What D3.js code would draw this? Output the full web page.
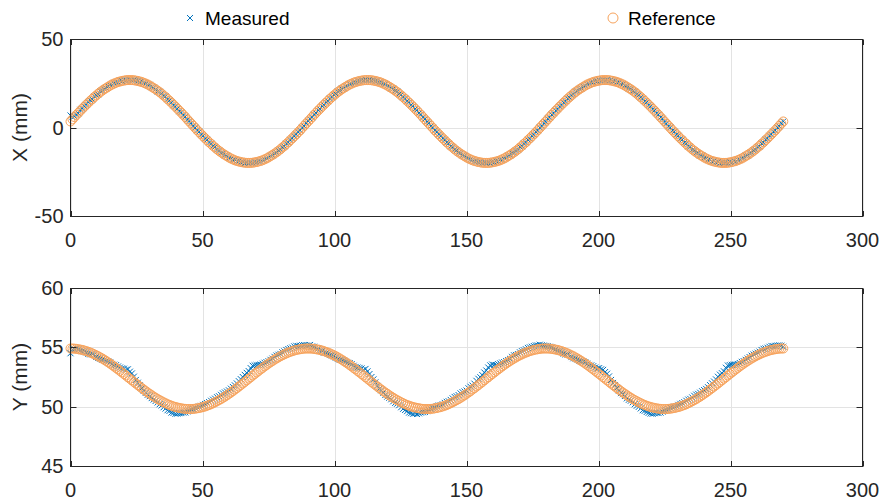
<!DOCTYPE html>
<html><head><meta charset="utf-8">
<script src="https://cdn.jsdelivr.net/npm/d3@7"></script>
<style>body{margin:0;background:#fff}svg{display:block;font-family:"Liberation Sans",Arial,sans-serif}</style>
</head><body><div id="chart"></div>
<script>
const time = [
0,0.75,1.5,2.25,3,3.75,4.5,5.25,6,6.75,7.5,8.25,9,9.75,10.5,11.25,12,12.75,13.5,14.25,
15,15.75,16.5,17.25,18,18.75,19.5,20.25,21,21.75,22.5,23.25,24,24.75,25.5,26.25,27,27.75,28.5,29.25,
30,30.75,31.5,32.25,33,33.75,34.5,35.25,36,36.75,37.5,38.25,39,39.75,40.5,41.25,42,42.75,43.5,44.25,
45,45.75,46.5,47.25,48,48.75,49.5,50.25,51,51.75,52.5,53.25,54,54.75,55.5,56.25,57,57.75,58.5,59.25,
60,60.75,61.5,62.25,63,63.75,64.5,65.25,66,66.75,67.5,68.25,69,69.75,70.5,71.25,72,72.75,73.5,74.25,
75,75.75,76.5,77.25,78,78.75,79.5,80.25,81,81.75,82.5,83.25,84,84.75,85.5,86.25,87,87.75,88.5,89.25,
90,90.75,91.5,92.25,93,93.75,94.5,95.25,96,96.75,97.5,98.25,99,99.75,100.5,101.25,102,102.75,103.5,104.25,
105,105.75,106.5,107.25,108,108.75,109.5,110.25,111,111.75,112.5,113.25,114,114.75,115.5,116.25,117,117.75,118.5,119.25,
120,120.75,121.5,122.25,123,123.75,124.5,125.25,126,126.75,127.5,128.25,129,129.75,130.5,131.25,132,132.75,133.5,134.25,
135,135.75,136.5,137.25,138,138.75,139.5,140.25,141,141.75,142.5,143.25,144,144.75,145.5,146.25,147,147.75,148.5,149.25,
150,150.75,151.5,152.25,153,153.75,154.5,155.25,156,156.75,157.5,158.25,159,159.75,160.5,161.25,162,162.75,163.5,164.25,
165,165.75,166.5,167.25,168,168.75,169.5,170.25,171,171.75,172.5,173.25,174,174.75,175.5,176.25,177,177.75,178.5,179.25,
180,180.75,181.5,182.25,183,183.75,184.5,185.25,186,186.75,187.5,188.25,189,189.75,190.5,191.25,192,192.75,193.5,194.25,
195,195.75,196.5,197.25,198,198.75,199.5,200.25,201,201.75,202.5,203.25,204,204.75,205.5,206.25,207,207.75,208.5,209.25,
210,210.75,211.5,212.25,213,213.75,214.5,215.25,216,216.75,217.5,218.25,219,219.75,220.5,221.25,222,222.75,223.5,224.25,
225,225.75,226.5,227.25,228,228.75,229.5,230.25,231,231.75,232.5,233.25,234,234.75,235.5,236.25,237,237.75,238.5,239.25,
240,240.75,241.5,242.25,243,243.75,244.5,245.25,246,246.75,247.5,248.25,249,249.75,250.5,251.25,252,252.75,253.5,254.25,
255,255.75,256.5,257.25,258,258.75,259.5,260.25,261,261.75,262.5,263.25,264,264.75,265.5,266.25,267,267.75,268.5,269.25,
270];

const refX = [
3.4,4.6,5.9,7.1,8.3,9.5,10.6,11.8,12.9,14.0,15.1,16.1,17.2,18.1,19.1,20.0,20.8,21.6,22.3,23.0,23.7,24.3,24.8,25.3,25.7,26.0,26.3,26.5,26.7,26.8,26.8,
26.8,26.7,26.5,26.3,26.0,25.7,25.3,24.8,24.3,23.7,23.0,22.3,21.6,20.8,20.0,19.1,18.1,17.2,16.1,15.1,14.0,12.9,11.8,10.6,9.5,8.3,7.1,5.9,4.6,
3.4,2.2,1.0,-0.3,-1.5,-2.7,-3.8,-5.0,-6.1,-7.2,-8.3,-9.3,-10.4,-11.3,-12.3,-13.2,-14.0,-14.8,-15.5,-16.2,-16.9,-17.5,-18.0,-18.5,-18.9,-19.2,-19.5,-19.7,-19.9,-20.0,-20.0,
-20.0,-19.9,-19.7,-19.5,-19.2,-18.9,-18.5,-18.0,-17.5,-16.9,-16.2,-15.5,-14.8,-14.0,-13.2,-12.3,-11.3,-10.4,-9.3,-8.3,-7.2,-6.1,-5.0,-3.8,-2.7,-1.5,-0.3,1.0,2.2,
3.4,4.6,5.9,7.1,8.3,9.5,10.6,11.8,12.9,14.0,15.1,16.1,17.2,18.1,19.1,20.0,20.8,21.6,22.3,23.0,23.7,24.3,24.8,25.3,25.7,26.0,26.3,26.5,26.7,26.8,26.8,
26.8,26.7,26.5,26.3,26.0,25.7,25.3,24.8,24.3,23.7,23.0,22.3,21.6,20.8,20.0,19.1,18.1,17.2,16.1,15.1,14.0,12.9,11.8,10.6,9.5,8.3,7.1,5.9,4.6,
3.4,2.2,1.0,-0.3,-1.5,-2.7,-3.8,-5.0,-6.1,-7.2,-8.3,-9.3,-10.4,-11.3,-12.3,-13.2,-14.0,-14.8,-15.5,-16.2,-16.9,-17.5,-18.0,-18.5,-18.9,-19.2,-19.5,-19.7,-19.9,-20.0,-20.0,
-20.0,-19.9,-19.7,-19.5,-19.2,-18.9,-18.5,-18.0,-17.5,-16.9,-16.2,-15.5,-14.8,-14.0,-13.2,-12.3,-11.3,-10.4,-9.3,-8.3,-7.2,-6.1,-5.0,-3.8,-2.7,-1.5,-0.3,1.0,2.2,
3.4,4.6,5.9,7.1,8.3,9.5,10.6,11.8,12.9,14.0,15.1,16.1,17.2,18.1,19.1,20.0,20.8,21.6,22.3,23.0,23.7,24.3,24.8,25.3,25.7,26.0,26.3,26.5,26.7,26.8,26.8,
26.8,26.7,26.5,26.3,26.0,25.7,25.3,24.8,24.3,23.7,23.0,22.3,21.6,20.8,20.0,19.1,18.1,17.2,16.1,15.1,14.0,12.9,11.8,10.6,9.5,8.3,7.1,5.9,4.6,
3.4,2.2,1.0,-0.3,-1.5,-2.7,-3.8,-5.0,-6.1,-7.2,-8.3,-9.3,-10.4,-11.3,-12.3,-13.2,-14.0,-14.8,-15.5,-16.2,-16.9,-17.5,-18.0,-18.5,-18.9,-19.2,-19.5,-19.7,-19.9,-20.0,-20.0,
-20.0,-19.9,-19.7,-19.5,-19.2,-18.9,-18.5,-18.0,-17.5,-16.9,-16.2,-15.5,-14.8,-14.0,-13.2,-12.3,-11.3,-10.4,-9.3,-8.3,-7.2,-6.1,-5.0,-3.8,-2.7,-1.5,-0.3,1.0,2.2,
3.4];

const measX = [
6.8,5.9,6.3,7.2,8.0,10.0,10.6,12.0,12.8,14.4,15.4,15.9,17.6,18.2,18.8,20.5,20.8,21.8,22.2,23.4,24.0,24.1,25.2,25.4,25.4,26.5,26.3,26.7,26.6,27.2,27.1,
26.5,26.9,26.6,26.4,25.7,26.2,25.3,25.0,24.2,24.1,22.8,22.5,21.5,20.4,20.2,19.2,17.8,17.6,16.0,15.3,14.2,12.6,12.0,10.7,9.2,8.7,7.0,6.1,4.3,
3.6,2.5,0.8,-0.1,-1.6,-2.4,-4.0,-4.8,-6.3,-7.0,-8.5,-9.1,-10.5,-11.0,-12.5,-13.0,-14.3,-14.6,-15.7,-16.0,-17.2,-17.4,-18.3,-18.3,-19.1,-19.0,-19.8,-19.5,-20.2,-19.8,-20.3,
-19.8,-20.1,-19.5,-19.7,-19.0,-19.1,-18.3,-18.2,-17.3,-17.0,-16.0,-15.7,-14.6,-14.2,-13.0,-12.5,-11.1,-10.6,-9.1,-8.5,-7.0,-6.3,-4.8,-4.0,-2.5,-1.7,-0.1,0.8,2.4,
3.7,4.8,5.7,7.4,8.2,9.8,10.5,12.1,12.8,14.3,14.9,16.4,17.1,18.4,19.0,20.3,20.7,21.9,22.2,23.3,23.6,24.6,24.7,25.6,25.6,26.3,26.2,26.8,26.6,27.1,26.7,
27.1,26.6,26.8,26.2,26.3,25.6,25.6,24.7,24.6,23.6,23.3,22.2,21.9,20.7,20.3,19.0,18.4,17.1,16.4,14.9,14.3,12.8,12.1,10.5,9.8,8.2,7.4,5.7,4.8,
3.2,2.5,0.8,0.0,-1.7,-2.5,-4.0,-4.8,-6.3,-7.0,-8.5,-9.0,-10.6,-11.0,-12.5,-13.0,-14.2,-14.5,-15.7,-16.0,-17.1,-17.3,-18.2,-18.3,-19.1,-19.0,-19.7,-19.5,-20.1,-19.8,-20.2,
-19.8,-20.1,-19.5,-19.7,-19.0,-19.1,-18.3,-18.2,-17.3,-17.0,-16.0,-15.7,-14.5,-14.2,-13.0,-12.5,-11.0,-10.6,-9.0,-8.5,-7.0,-6.3,-4.8,-4.0,-2.5,-1.7,0.0,0.8,2.5,
3.2,4.9,5.7,7.3,8.1,9.7,10.4,12.0,12.7,14.2,14.9,16.3,17.0,18.3,18.9,20.2,20.6,21.8,22.1,23.2,23.5,24.5,24.6,25.5,25.5,26.2,26.1,26.7,26.5,27.0,26.6,
27.0,26.5,26.7,26.1,26.2,25.5,25.5,24.6,24.5,23.5,23.2,22.1,21.8,20.6,20.2,18.9,18.3,17.0,16.3,14.9,14.2,12.7,12.0,10.4,9.7,8.1,7.3,5.7,4.9,
3.1,2.4,0.7,0.1,-1.8,-2.4,-4.1,-4.7,-6.4,-6.9,-8.6,-9.0,-10.7,-11.0,-12.6,-12.9,-14.3,-14.5,-15.8,-15.9,-17.2,-17.3,-18.3,-18.3,-19.2,-19.0,-19.8,-19.5,-20.2,-19.8,-20.2,
-19.8,-20.2,-19.5,-19.8,-19.0,-19.2,-18.3,-18.3,-17.3,-17.2,-15.9,-15.8,-14.5,-14.3,-12.9,-12.6,-11.0,-10.7,-9.0,-8.6,-6.9,-6.4,-4.7,-4.1,-2.4,-1.8,0.1,0.7,2.4,
3.4];

const refY = [
54.90,54.90,54.89,54.87,54.84,54.81,54.78,54.73,54.68,54.62,54.56,54.49,54.41,54.33,54.25,54.15,54.06,53.96,53.85,53.74,
53.63,53.51,53.39,53.26,53.14,53.01,52.88,52.75,52.62,52.48,52.35,52.22,52.08,51.95,51.82,51.69,51.56,51.44,51.31,51.19,
51.08,50.96,50.85,50.75,50.64,50.55,50.46,50.37,50.29,50.21,50.14,50.08,50.02,49.97,49.93,49.89,49.86,49.83,49.81,49.80,
49.80,49.80,49.81,49.83,49.86,49.89,49.93,49.97,50.02,50.08,50.14,50.21,50.29,50.37,50.46,50.55,50.64,50.75,50.85,50.96,
51.08,51.19,51.31,51.44,51.56,51.69,51.82,51.95,52.08,52.22,52.35,52.48,52.62,52.75,52.88,53.01,53.14,53.26,53.39,53.51,
53.63,53.74,53.85,53.96,54.06,54.15,54.25,54.33,54.41,54.49,54.56,54.62,54.68,54.73,54.78,54.81,54.84,54.87,54.89,54.90,
54.90,54.90,54.89,54.87,54.84,54.81,54.78,54.73,54.68,54.62,54.56,54.49,54.41,54.33,54.25,54.15,54.06,53.96,53.85,53.74,
53.63,53.51,53.39,53.26,53.14,53.01,52.88,52.75,52.62,52.48,52.35,52.22,52.08,51.95,51.82,51.69,51.56,51.44,51.31,51.19,
51.08,50.96,50.85,50.75,50.64,50.55,50.46,50.37,50.29,50.21,50.14,50.08,50.02,49.97,49.93,49.89,49.86,49.83,49.81,49.80,
49.80,49.80,49.81,49.83,49.86,49.89,49.93,49.97,50.02,50.08,50.14,50.21,50.29,50.37,50.46,50.55,50.64,50.75,50.85,50.96,
51.08,51.19,51.31,51.44,51.56,51.69,51.82,51.95,52.08,52.22,52.35,52.48,52.62,52.75,52.88,53.01,53.14,53.26,53.39,53.51,
53.63,53.74,53.85,53.96,54.06,54.15,54.25,54.33,54.41,54.49,54.56,54.62,54.68,54.73,54.78,54.81,54.84,54.87,54.89,54.90,
54.90,54.90,54.89,54.87,54.84,54.81,54.78,54.73,54.68,54.62,54.56,54.49,54.41,54.33,54.25,54.15,54.06,53.96,53.85,53.74,
53.63,53.51,53.39,53.26,53.14,53.01,52.88,52.75,52.62,52.48,52.35,52.22,52.08,51.95,51.82,51.69,51.56,51.44,51.31,51.19,
51.08,50.96,50.85,50.75,50.64,50.55,50.46,50.37,50.29,50.21,50.14,50.08,50.02,49.97,49.93,49.89,49.86,49.83,49.81,49.80,
49.80,49.80,49.81,49.83,49.86,49.89,49.93,49.97,50.02,50.08,50.14,50.21,50.29,50.37,50.46,50.55,50.64,50.75,50.85,50.96,
51.08,51.19,51.31,51.44,51.56,51.69,51.82,51.95,52.08,52.22,52.35,52.48,52.62,52.75,52.88,53.01,53.14,53.26,53.39,53.51,
53.63,53.74,53.85,53.96,54.06,54.15,54.25,54.33,54.41,54.49,54.56,54.62,54.68,54.73,54.78,54.81,54.84,54.87,54.89,54.90,
54.90];

const measY = [
54.50,54.80,54.85,54.92,54.84,54.72,54.68,54.66,54.58,54.45,54.41,54.42,54.36,54.20,54.10,54.05,53.96,53.95,53.85,53.80,
53.73,53.60,53.54,53.50,53.39,53.30,53.23,53.20,53.12,53.15,52.95,52.80,52.53,52.25,52.02,51.80,51.56,51.35,51.16,51.00,
50.88,50.72,50.60,50.48,50.35,50.20,50.10,49.95,49.84,49.70,49.64,49.50,49.47,49.40,49.42,49.45,49.46,49.50,49.51,49.60,
49.65,49.75,49.81,49.90,49.96,50.00,50.07,50.15,50.22,50.30,50.39,50.50,50.59,50.68,50.80,50.88,51.00,51.12,51.20,51.28,
51.38,51.52,51.66,51.80,51.96,52.15,52.32,52.50,52.68,52.85,53.00,53.25,53.45,53.48,53.50,53.52,53.55,53.62,53.70,53.75,
53.83,53.95,54.05,54.20,54.31,54.38,54.45,54.58,54.66,54.78,54.86,54.92,54.98,55.08,55.13,55.10,55.14,55.18,55.19,55.15,
55.15,55.20,55.08,55.05,54.95,54.88,54.72,54.70,54.55,54.52,54.45,54.36,54.32,54.25,54.13,54.02,53.94,53.95,53.88,53.78,
53.70,53.66,53.58,53.45,53.35,53.30,53.27,53.22,53.10,53.18,52.98,52.75,52.50,52.30,52.05,51.75,51.52,51.38,51.18,50.98,
50.85,50.75,50.62,50.45,50.32,50.25,50.12,49.95,49.82,49.72,49.62,49.50,49.45,49.40,49.43,49.38,49.44,49.50,49.53,49.55,
49.62,49.72,49.83,49.88,49.94,50.04,50.10,50.12,50.20,50.32,50.41,50.46,50.57,50.70,50.82,50.88,50.98,51.12,51.22,51.28,
51.36,51.55,51.68,51.78,51.94,52.18,52.35,52.48,52.66,52.88,53.05,53.30,53.48,53.55,53.52,53.50,53.58,53.65,53.72,53.76,
53.85,53.92,54.03,54.20,54.33,54.36,54.43,54.58,54.68,54.75,54.84,54.95,55.00,55.05,55.11,55.16,55.16,55.22,55.18,55.15,
55.12,55.10,55.05,54.98,54.90,54.82,54.70,54.68,54.60,54.48,54.40,54.40,54.38,54.18,54.08,54.06,53.98,53.88,53.83,53.80,
53.75,53.62,53.52,53.48,53.41,53.30,53.21,53.25,53.15,53.10,52.92,52.78,52.55,52.25,52.00,51.82,51.58,51.35,51.14,51.05,
50.90,50.70,50.58,50.50,50.37,50.20,50.08,49.98,49.85,49.70,49.65,49.55,49.48,49.42,49.40,49.45,49.48,49.46,49.50,49.58,
49.66,49.72,49.80,49.92,49.97,50.00,50.05,50.15,50.24,50.30,50.38,50.50,50.60,50.66,50.78,50.92,51.02,51.08,51.18,51.30,
51.40,51.50,51.64,51.82,51.97,52.12,52.30,52.52,52.70,52.82,52.98,53.28,53.47,53.50,53.53,53.55,53.56,53.60,53.68,53.78,
53.84,53.95,54.06,54.18,54.30,54.40,54.47,54.55,54.64,54.78,54.88,54.90,54.97,55.05,55.12,55.10,55.13,55.15,55.17,55.14,
55.05];

const xTicks = [0,50,100,150,200,250,300];
const yTicksTop = [-50,0,50];
const yTicksBot = [45,50,55,60];
const seriesNames = ["Measured","Reference"];
const yLabels = ["X (mm)","Y (mm)"];

const W = 883, H = 502;
const colMeas = "#0072BD", colRef = "#F7A35C", axisCol = "#262626";
const svg = d3.select("#chart").append("svg").attr("width",W).attr("height",H);

const x = d3.scaleLinear().domain([0,300]).range([70.5,862.5]);

function panel(yDomain, yRange, yTicks, label, measured, reference){
  const y = d3.scaleLinear().domain(yDomain).range(yRange);
  const g = svg.append("g");
  const yb = yRange[0], yt = yRange[1];
  g.selectAll(".gx").data(xTicks).join("line")
    .attr("x1",d=>Math.round(x(d))+0.5).attr("x2",d=>Math.round(x(d))+0.5)
    .attr("y1",yt).attr("y2",yb).attr("stroke","#e3e3e3").attr("stroke-width",1);
  g.selectAll(".gy").data(yTicks).join("line")
    .attr("y1",d=>Math.round(y(d))+0.5).attr("y2",d=>Math.round(y(d))+0.5)
    .attr("x1",x(0)).attr("x2",x(300)).attr("stroke","#e3e3e3").attr("stroke-width",1);
  const pts = time.map((t,i)=>({t, m:measured[i], r:reference[i]}));
  const cs = 3;
  g.append("g").selectAll("path").data(pts).join("path")
    .attr("d",d=>{const px=x(d.t), py=y(d.m);return `M${px-cs},${py-cs}L${px+cs},${py+cs}M${px-cs},${py+cs}L${px+cs},${py-cs}`;})
    .attr("stroke",colMeas).attr("stroke-width",1).attr("fill","none");
  g.append("g").selectAll("circle").data(pts).join("circle")
    .attr("cx",d=>x(d.t)).attr("cy",d=>y(d.r)).attr("r",4.5)
    .attr("fill","none").attr("stroke",colRef).attr("stroke-width",1);
  g.append("rect").attr("x",x(0)).attr("y",Math.round(yt)+0.5).attr("width",x(300)-x(0)).attr("height",Math.round(yb)-Math.round(yt))
    .attr("fill","none").attr("stroke",axisCol).attr("stroke-width",1);
  xTicks.forEach(d=>{
    const px=Math.round(x(d))+0.5;
    g.append("line").attr("x1",px).attr("x2",px).attr("y1",Math.round(yb)+0.5).attr("y2",Math.round(yb)-5).attr("stroke",axisCol);
    g.append("line").attr("x1",px).attr("x2",px).attr("y1",Math.round(yt)+0.5).attr("y2",Math.round(yt)+6).attr("stroke",axisCol);
    g.append("text").attr("x",x(d)).attr("y",yb+31).attr("text-anchor","middle").attr("font-size",20).attr("fill",axisCol).text(d);
  });
  yTicks.forEach(d=>{
    const py=Math.round(y(d))+0.5;
    g.append("line").attr("y1",py).attr("y2",py).attr("x1",x(0)).attr("x2",x(0)+6).attr("stroke",axisCol);
    g.append("line").attr("y1",py).attr("y2",py).attr("x1",x(300)).attr("x2",x(300)-6).attr("stroke",axisCol);
    g.append("text").attr("x",x(0)-7).attr("y",y(d)+7).attr("text-anchor","end").attr("font-size",20).attr("fill",axisCol).text(d);
  });
  const cy = (yb+yt)/2;
  g.append("text").attr("transform",`translate(27,${cy}) rotate(-90)`).attr("text-anchor","middle")
    .attr("font-size",21).attr("fill",axisCol).text(label);
}

panel([-50,50],[216,39],yTicksTop,yLabels[0],measX,refX);
panel([45,60],[466,288],yTicksBot,yLabels[1],measY,refY);

const lg = svg.append("g");
lg.append("path").attr("d","M187,15L193,21M187,21L193,15").attr("stroke",colMeas).attr("stroke-width",1);
lg.append("text").attr("x",205).attr("y",25).attr("font-size",19).attr("fill","#000").text(seriesNames[0]);
lg.append("circle").attr("cx",613).attr("cy",18).attr("r",5).attr("fill","none").attr("stroke",colRef).attr("stroke-width",1);
lg.append("text").attr("x",628).attr("y",25).attr("font-size",19).attr("fill","#000").text(seriesNames[1]);
</script></body></html>
